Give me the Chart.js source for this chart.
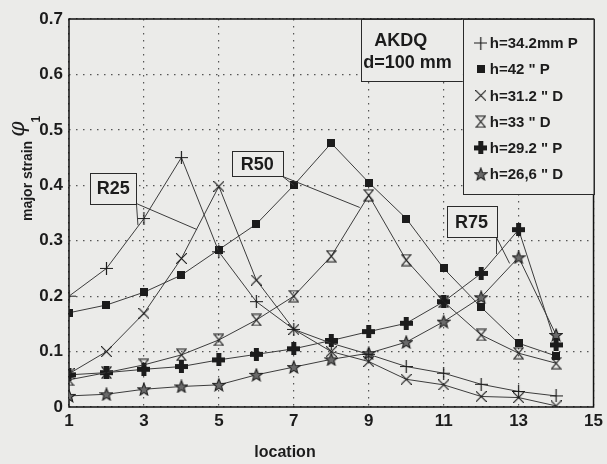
<!DOCTYPE html>
<html>
<head>
<meta charset="utf-8">
<script src="https://cdn.jsdelivr.net/npm/chart.js@4.4.0/dist/chart.umd.min.js"></script>
<style>
    html, body { margin: 0; padding: 0; background: #ebebe9; }
</style>
</head>
<body>
<canvas id="strainChart" width="607" height="464"></canvas>
<script>
// Données
const locations = [1, 2, 3, 4, 5, 6, 7, 8, 9, 10, 11, 12, 13, 14];
const h342P = [0.20, 0.25, 0.34, 0.45, 0.28, 0.19, 0.14, 0.115, 0.095, 0.073, 0.061, 0.041, 0.028, 0.02];
const h42P = [0.17, 0.184, 0.207, 0.238, 0.284, 0.33, 0.40, 0.476, 0.405, 0.34, 0.25, 0.18, 0.115, 0.092];
const h312D = [0.06, 0.10, 0.169, 0.268, 0.398, 0.229, 0.14, 0.10, 0.082, 0.05, 0.04, 0.019, 0.017, 0.002];
const h33D = [0.049, 0.062, 0.076, 0.094, 0.121, 0.157, 0.20, 0.272, 0.382, 0.265, 0.19, 0.13, 0.097, 0.079];
const h292P = [0.058, 0.062, 0.068, 0.073, 0.085, 0.095, 0.105, 0.12, 0.136, 0.151, 0.19, 0.241, 0.32, 0.112];
const h266D = [0.02, 0.023, 0.032, 0.037, 0.04, 0.058, 0.072, 0.086, 0.097, 0.117, 0.154, 0.198, 0.27, 0.13];

const seriesLabels = ['h=34.2mm P', 'h=42 " P', 'h=31.2 " D', 'h=33 " D', 'h=29.2 " P', 'h=26,6 " D'];
const xTickValues = [1, 3, 5, 7, 9, 11, 13, 15];
const yTickValues = [0, 0.1, 0.2, 0.3, 0.4, 0.5, 0.6, 0.7];

const infoLines = ['AKDQ', 'd=100 mm'];
const radiusLabels = ['R25', 'R50', 'R75'];

const FONT = '"Liberation Sans", Arial, Helvetica, sans-serif';
const INK = '#1c1c1c';
const PAPER = '#ebebe9';

// Marqueurs dessinés sur de petits canvas
function makeMarker(w, h, draw) {
    const c = document.createElement('canvas');
    c.width = w;
    c.height = h;
    const ctx = c.getContext('2d');
    ctx.strokeStyle = INK;
    ctx.fillStyle = INK;
    draw(ctx, w, h);
    return c;
}

const markers = [
    // + fin
    makeMarker(13, 13, (ctx, w, h) => {
        ctx.lineWidth = 1.2;
        ctx.beginPath();
        ctx.moveTo(0, h / 2); ctx.lineTo(w, h / 2);
        ctx.moveTo(w / 2, 0); ctx.lineTo(w / 2, h);
        ctx.stroke();
    }),
    // carré plein
    makeMarker(8, 8, (ctx, w, h) => {
        ctx.fillRect(0, 0, w, h);
    }),
    // x
    makeMarker(11, 11, (ctx, w, h) => {
        ctx.lineWidth = 1.1;
        ctx.beginPath();
        ctx.moveTo(0, 0); ctx.lineTo(w, h);
        ctx.moveTo(w, 0); ctx.lineTo(0, h);
        ctx.stroke();
    }),
    // sablier
    makeMarker(11, 13, (ctx, w, h) => {
        ctx.lineWidth = 1.1;
        ctx.beginPath();
        ctx.moveTo(1, 1); ctx.lineTo(w - 1, 1);
        ctx.lineTo(1, h - 1); ctx.lineTo(w - 1, h - 1);
        ctx.closePath();
        ctx.stroke();
    }),
    // + épais
    makeMarker(13, 13, (ctx, w, h) => {
        ctx.fillRect(0, 4, w, 5);
        ctx.fillRect(4, 0, 5, h);
    }),
    // étoile
    makeMarker(14, 14, (ctx, w, h) => {
        ctx.lineWidth = 1.1;
        ctx.fillStyle = '#6a6a6a';
        ctx.beginPath();
        for (let i = 0; i < 10; i++) {
            const r = i % 2 === 0 ? 6.5 : 2.8;
            const a = -Math.PI / 2 + i * Math.PI / 5;
            const px = w / 2 + r * Math.cos(a);
            const py = h / 2 + 0.5 + r * Math.sin(a);
            if (i === 0) ctx.moveTo(px, py); else ctx.lineTo(px, py);
        }
        ctx.closePath();
        ctx.fill();
        ctx.stroke();
    })
];

const seriesData = [h342P, h42P, h312D, h33D, h292P, h266D];

function makeDataset(values, i) {
    return {
        label: seriesLabels[i],
        data: locations.map((x, k) => ({ x: x, y: values[k] })),
        borderColor: '#3c3c3c',
        borderWidth: 1,
        pointStyle: markers[i],
        pointRadius: 6,
        tension: 0,
        fill: false
    };
}

// Boîtes et légende (coordonnées en unités des axes)
const infoBox = { x0: 8.8, x1: 11.51, y0: 0.70, y1: 0.589 };
const legendBox = { x0: 11.51, x1: 15, y0: 0.70, y1: 0.384 };
const radiusBoxes = [
    { x0: 1.56, x1: 2.80, y0: 0.423, y1: 0.367, leaders: [[2.84, 0.328], [4.42, 0.32]] },
    { x0: 5.35, x1: 6.70, y0: 0.461, y1: 0.416, leaders: [[7.0, 0.40], [8.76, 0.36]] },
    { x0: 11.08, x1: 12.41, y0: 0.362, y1: 0.306, leaders: [[12.41, 0.276], [12.76, 0.259]] }
];

function boxPixels(chart, b) {
    const xs = chart.scales.x, ys = chart.scales.y;
    const left = xs.getPixelForValue(b.x0), right = xs.getPixelForValue(b.x1);
    const top = ys.getPixelForValue(b.y0), bottom = ys.getPixelForValue(b.y1);
    return { left, right, top, bottom };
}

function drawBox(ctx, p) {
    ctx.fillStyle = PAPER;
    ctx.fillRect(p.left, p.top, p.right - p.left, p.bottom - p.top);
    ctx.strokeStyle = '#2a2a2a';
    ctx.lineWidth = 1;
    ctx.strokeRect(Math.round(p.left) + 0.5, Math.round(p.top) + 0.5,
        Math.round(p.right - p.left), Math.round(p.bottom - p.top));
}

const decorPlugin = {
    id: 'decor',
    beforeDraw(chart) {
        const ctx = chart.ctx;
        ctx.save();
        ctx.fillStyle = PAPER;
        ctx.fillRect(0, 0, chart.width, chart.height);
        ctx.restore();
    },
    beforeDatasetsDraw(chart) {
        const { ctx, chartArea: a } = chart;
        ctx.save();
        ctx.strokeStyle = '#111';
        ctx.lineWidth = 1.5;
        ctx.strokeRect(a.left, a.top, a.right - a.left, a.bottom - a.top);
        ctx.restore();
    },
    afterDatasetsDraw(chart) {
        const ctx = chart.ctx;
        const xs = chart.scales.x, ys = chart.scales.y;
        ctx.save();

        // Flèches de repère R25 / R50 / R75
        radiusBoxes.forEach((b, i) => {
            const p = boxPixels(chart, b);
            ctx.strokeStyle = '#3c3c3c';
            ctx.lineWidth = 1;
            b.leaders.forEach(t => {
                ctx.beginPath();
                ctx.moveTo(p.right, p.bottom);
                ctx.lineTo(xs.getPixelForValue(t[0]), ys.getPixelForValue(t[1]));
                ctx.stroke();
            });
            drawBox(ctx, p);
            ctx.fillStyle = INK;
            ctx.font = 'bold 18px ' + FONT;
            ctx.textAlign = 'center';
            ctx.textBaseline = 'middle';
            ctx.fillText(radiusLabels[i], (p.left + p.right) / 2, (p.top + p.bottom) / 2 + 1);
        });

        // Boîte AKDQ
        const ib = boxPixels(chart, infoBox);
        drawBox(ctx, ib);
        ctx.fillStyle = INK;
        ctx.font = 'bold 18px ' + FONT;
        ctx.textAlign = 'left';
        ctx.textBaseline = 'middle';
        ctx.fillText(infoLines[0], ib.left + 13, ib.top + 22);
        ctx.fillText(infoLines[1], ib.left + 2, ib.top + 44);

        // Légende
        const lb = boxPixels(chart, legendBox);
        drawBox(ctx, lb);
        ctx.font = 'bold 15px ' + FONT;
        const step = (lb.bottom - lb.top - 44) / (seriesLabels.length - 1);
        seriesLabels.forEach((label, i) => {
            const y = lb.top + 24 + i * step;
            const m = markers[i];
            ctx.drawImage(m, lb.left + 18 - m.width / 2, y - m.height / 2);
            ctx.fillStyle = INK;
            ctx.fillText(label, lb.left + 27, y + 1);
        });

        // Titres des axes
        ctx.fillStyle = INK;
        ctx.font = 'bold 16px ' + FONT;
        ctx.textAlign = 'center';
        ctx.textBaseline = 'middle';
        ctx.fillText('location', 285, 453);

        ctx.translate(32, 221);
        ctx.rotate(-Math.PI / 2);
        ctx.textAlign = 'left';
        ctx.textBaseline = 'alphabetic';
        ctx.font = 'bold 14px ' + FONT;
        ctx.fillText('major strain', 0, 0);
        const w = ctx.measureText('major strain').width;
        ctx.font = 'italic 22px "DejaVu Serif", serif';
        ctx.fillText('φ', w + 4, -8);
        const pw = ctx.measureText('φ').width;
        ctx.font = 'bold 12px ' + FONT;
        ctx.fillText('1', w + 4 + pw - 1, 8);
        ctx.restore();
    }
};

const chartConfig = {
    type: 'line',
    data: { datasets: seriesData.map(makeDataset) },
    options: {
        responsive: false,
        animation: false,
        layout: { padding: { top: 19, right: 11, left: 0, bottom: 0 } },
        scales: {
            x: {
                type: 'linear',
                min: 1,
                max: 15,
                afterBuildTicks: (scale) => { scale.ticks = xTickValues.map(v => ({ value: v })); },
                afterFit: (scale) => { scale.height = 57; },
                ticks: {
                    color: INK,
                    padding: 4,
                    font: { family: FONT, size: 17, weight: 'bold' }
                },
                grid: { color: '#555', lineWidth: 1.2, drawTicks: false },
                border: { display: false, dash: [1.5, 5.5] }
            },
            y: {
                min: 0,
                max: 0.7,
                afterBuildTicks: (scale) => { scale.ticks = yTickValues.map(v => ({ value: v })); },
                afterFit: (scale) => { scale.width = 69; },
                ticks: {
                    color: INK,
                    padding: 6,
                    font: { family: FONT, size: 17, weight: 'bold' },
                    callback: (v) => v === 0 ? '0' : v.toFixed(1)
                },
                grid: { color: '#555', lineWidth: 1.2, drawTicks: false },
                border: { display: false, dash: [1.5, 5.5] }
            }
        },
        plugins: {
            legend: { display: false },
            tooltip: { enabled: false }
        }
    },
    plugins: [decorPlugin]
};

// Initialisation
const chart = new Chart(document.getElementById('strainChart'), chartConfig);
</script>
</body>
</html>
